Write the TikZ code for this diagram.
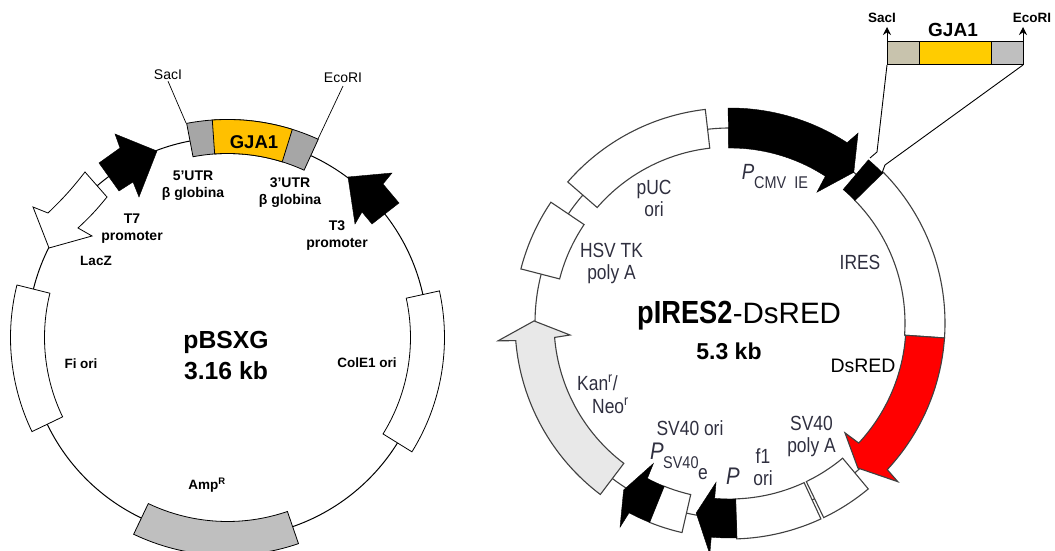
\documentclass[tikz,border=0pt]{standalone}
\usepackage{fontspec}
\usetikzlibrary{arrows.meta}
\setmainfont{Liberation Sans}
\newfontfamily\narrowfont[FakeStretch=0.85]{Liberation Sans}
\definecolor{labelgray}{HTML}{2F2F3F}
\definecolor{geneorange}{HTML}{FFC000}
\definecolor{utrgray}{HTML}{A6A6A6}
\definecolor{ampgray}{HTML}{BFBFBF}
\definecolor{kangray}{HTML}{E8E8E8}
\definecolor{linegray}{HTML}{404040}
\definecolor{beige}{HTML}{C8C3AD}
\definecolor{geneyellow}{HTML}{FFCC00}
\tikzset{
  leftlab/.style={inner sep=0pt,align=center,font=\bfseries\fontsize{14}{17}\selectfont},
  rightlab/.style={inner sep=0pt,align=center,text=labelgray,font=\narrowfont\fontsize{20.5}{22}\selectfont},
  seg/.style={draw=black,line width=0.8pt,line join=miter},
  rseg/.style={draw=linegray,line width=1.1pt,fill=white}
}
% block on a ring: style, start angle, end angle, outer radius, inner radius
\newcommand{\ringseg}[5]{\path[#1] (#2:#4) arc[start angle=#2,end angle=#3,radius=#4] -- (#3:#5) arc[start angle=#3,end angle=#2,radius=#5] -- cycle;}
\begin{document}
\begin{tikzpicture}[x=1pt,y=1pt]
  \useasboundingbox (0,0) rectangle (1055,551);

  % pBSXG
  \begin{scope}[shift={(227.5,213.5)}]
    \draw[line width=1pt] (0,0) circle[radius=200];
    \ringseg{seg,fill=white}{166}{205.7}{217}{183}
    \ringseg{seg,fill=white}{-31.8}{12.4}{217}{183}
    \ringseg{seg,fill=ampgray}{244.5}{289}{218}{184}
    \ringseg{seg,fill=utrgray}{65.4}{100.8}{218}{184}
    \ringseg{seg,fill=geneorange}{72.7}{94}{218}{184}
  \end{scope}
  \draw[seg,fill=white] (85,379) to[bend left=4] (48,338) -- (33,344) -- (49,303) -- (92,315) -- (78,323) to[bend right=4] (107,354) -- cycle;
  \draw[fill=black] (157,400) -- (115,417) -- (120,403) -- (99,388) -- (119,360) -- (133,369) -- (139,354) -- cycle;
  \draw[fill=black] (348,374) -- (392,378) -- (383,367) -- (399,348) -- (372,327) -- (362,339) -- (355,327) -- cycle;

  \coordinate (sacFoot) at (186,428);
  \coordinate (ecoFoot) at (318,412);
  \node[inner sep=0pt,font=\fontsize{14}{16}\selectfont] (sacLeft) at (168,476) {SacI};
  \node[inner sep=0pt,font=\fontsize{14}{16}\selectfont] (ecoLeft) at (343,473) {EcoRI};
  \draw[line width=0.7pt] (sacLeft.south) ++(0,-1) -- (sacFoot);
  \draw[line width=0.7pt] (ecoLeft.south) ++(0,-3) -- (ecoFoot);

  \node[inner sep=0pt,font=\bfseries\fontsize{18.5}{20}\selectfont] (geneLeft) at (254,409) {GJA1};
  \node[leftlab] (utrFive) at (193,365.5) {5’UTR\\β globina};
  \node[leftlab] (utrThree) at (290,358) {3’UTR\\β globina};
  \node[leftlab] (promSeven) at (132,322.5) {T7\\promoter};
  \node[leftlab] (promThree) at (337,315) {T3\\promoter};
  \node[leftlab,font=\bfseries\fontsize{13.5}{16}\selectfont] (lacz) at (96,290) {LacZ};
  \node[leftlab,font=\bfseries\fontsize{13.5}{16}\selectfont] (fiOri) at (81,187) {Fi ori};
  \node[leftlab,font=\bfseries\fontsize{13.5}{16}\selectfont] (colOri) at (367,188) {ColE1 ori};
  \node[leftlab,font=\bfseries\fontsize{13.5}{16}\selectfont] (amp) at (207,66) {Amp\textsuperscript{R}};
  \node[inner sep=0pt,align=center,font=\bfseries\fontsize{24.7}{31}\selectfont] (nameLeft) at (226,195.5) {pBSXG\\3.16 kb};

  % pIRES2-DsRED
  \begin{scope}[shift={(730,228)}]
    \draw[linegray,line width=1.1pt] (0,0) circle[radius=195];
    \ringseg{rseg}{96.6}{139}{215}{176}
    \ringseg{rseg}{146}{165.5}{216}{176}
    \ringseg{rseg}{-4}{44.5}{215}{175}
    \ringseg{rseg}{-50.2}{-64.3}{216}{176}
    \ringseg{rseg}{-65.1}{-88.2}{216}{176}
    \ringseg{rseg}{-102.9}{-112}{215}{176}
    \ringseg{draw=black,fill=black}{44.5}{49.7}{214}{175}
    \draw[fill=black] (90.5:215) arc[start angle=90.5,end angle=57,radius=215] -- (56:229) -- (50.6:195) -- (56.4:157) -- (57:175) arc[start angle=57,end angle=90.5,radius=175] -- cycle;
    \draw[linegray,line width=1.1pt,fill=red] (-4:215) arc[start angle=-4,end angle=-43,radius=215] -- (-43.4:231) -- (-48.6:193.4) -- (-43.7:159) -- (-43:176) arc[start angle=-43,end angle=-4,radius=176] -- cycle;
    \draw[fill=black] (-88.2:215) arc[start angle=-88.2,end angle=-95,radius=215] -- (-95:232) -- (-100.1:193) -- (-95:160) -- (-95:176) arc[start angle=-95,end angle=-88.2,radius=176] -- cycle;
    \draw[fill=black] (-112:215) arc[start angle=-112,end angle=-118,radius=215] -- (-118.3:232) -- (-122.5:198) -- (-118.6:160) -- (-118:176) arc[start angle=-118,end angle=-112,radius=176] -- cycle;
    \draw[linegray,line width=1.1pt,fill=kangray] (232.9:215) arc[start angle=232.9,end angle=184.7,radius=215] -- (184.4:232.7) -- (179.4:196) -- (184.3:160.4) -- (184.7:176) arc[start angle=184.7,end angle=232.9,radius=176] -- cycle;
  \end{scope}

  % insert above the ring
  \path[draw=black,line width=1pt,fill=beige] (887,486) rectangle (919,509);
  \path[draw=black,line width=1pt,fill=geneyellow] (919,486) rectangle (991,509);
  \path[draw=black,line width=1pt,fill=ampgray] (991,486) rectangle (1023,509);
  \node[inner sep=0pt,font=\bfseries\fontsize{13.5}{15}\selectfont] (sacRight) at (882,533) {SacI};
  \node[inner sep=0pt,font=\bfseries\fontsize{13.5}{15}\selectfont] (ecoRight) at (1032,533) {EcoRI};
  \node[inner sep=0pt,font=\bfseries\fontsize{19}{20}\selectfont] (geneRight) at (953,521) {GJA1};
  \coordinate (sacTip) at (887,524);
  \coordinate (ecoTip) at (1023,524);
  \draw[-{Stealth[length=8pt,width=8pt]},line width=1pt] (887,509) -- (sacTip);
  \draw[-{Stealth[length=8pt,width=8pt]},line width=1pt] (1023,509) -- (ecoTip);
  \coordinate (sacRing) at (870,393);
  \coordinate (ecoRing) at (882,378);
  \draw[line width=0.9pt] (887,486) -- (877,399) -- (sacRing);
  \draw[line width=0.9pt] (1023,486) -- (885,386) -- (ecoRing);

  \node[rightlab] (puc) at (654,353) {pUC\\ori};
  \node[rightlab] (hsv) at (611.5,288) {HSV TK\\poly A};
  \node[rightlab,font=\itshape\narrowfont\fontsize{22}{24}\selectfont] (pCmv) at (748,379) {P};
  \node[rightlab,anchor=west,font=\narrowfont\fontsize{17}{19}\selectfont] (cmv) at (754,368) {CMV\ \ IE};
  \node[rightlab] (ires) at (860,289) {IRES};
  \node[inner sep=0pt,anchor=base west,font=\narrowfont\bfseries\fontsize{32}{34}\selectfont] (nameRight) at (637,227) {pIRES2};
  \node[inner sep=0pt,anchor=base west,font=\fontsize{29.5}{31}\selectfont] (dsTitle) at (nameRight.base east) {-DsRED};
  \node[inner sep=0pt,font=\bfseries\fontsize{23}{25}\selectfont] (sizeRight) at (729,200) {5.3 kb};
  \node[inner sep=0pt,font=\fontsize{19.5}{21}\selectfont] (dsLabel) at (863,185) {DsRED};
  \node[rightlab,align=left,anchor=west] (kan) at (577,157) {Kan\textsuperscript{r}/\\[1pt]\hspace{15pt}Neo\textsuperscript{r}};
  \node[rightlab] (svOri) at (690,123) {SV40 ori};
  \node[rightlab,font=\itshape\narrowfont\fontsize{24}{26}\selectfont] (pSv) at (657,100) {P};
  \node[rightlab,anchor=west,font=\narrowfont\fontsize{17}{19}\selectfont] (svSub) at (663,88) {SV40};
  \node[rightlab] (svE) at (703,77) {e};
  \node[rightlab,font=\itshape\narrowfont\fontsize{24}{26}\selectfont] (pF) at (733,75) {P};
  \node[rightlab] (fOne) at (763,84) {f1\\ori};
  \node[rightlab] (polyA) at (811.5,115) {SV40\\poly A};
\end{tikzpicture}
\end{document}
